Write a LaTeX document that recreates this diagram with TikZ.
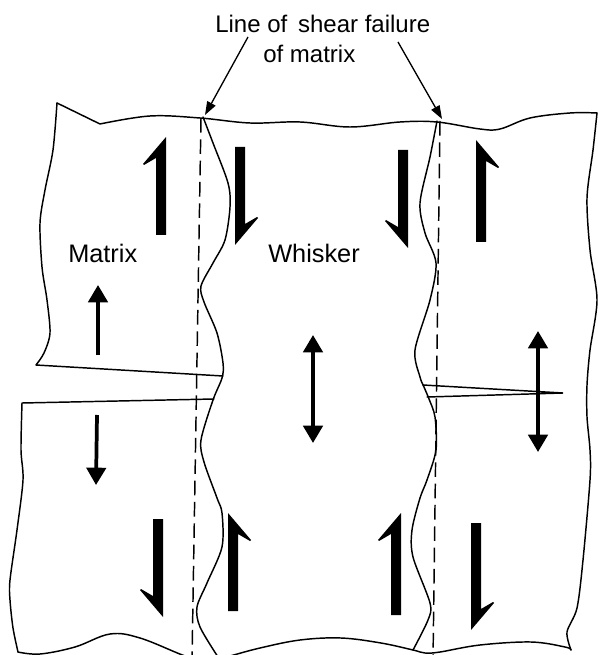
\documentclass[tikz,border=0pt]{standalone}
\usepackage{fontspec}
\setmainfont{Liberation Sans}
\usetikzlibrary{arrows.meta}
\tikzset{
  outline/.style={line width=1.1pt, line join=round, line cap=round},
  slipline/.style={line width=1.1pt, dash pattern=on 11pt off 5pt},
  stresstip/.tip={Triangle[length=13pt,width=14.5pt]},
  stressarrow/.style={line width=2.8pt, -stresstip},
  stressdouble/.style={line width=2.8pt, stresstip-stresstip},
  leader/.style={line width=1pt, -{Triangle[length=10pt,width=7pt]}},
  toplabel/.style={font=\fontsize{18}{22}\selectfont, inner sep=0pt, anchor=base west},
  regionlabel/.style={font=\fontsize{19}{23}\selectfont, inner sep=0pt, anchor=base west},
}
% shear harpoon: #1,#2 = pointed end of the bar, #3 = length,
% #4 = x-flip (1: barb left, -1: barb right), #5 = y-flip (1: up, -1: down)
\newcommand{\shearbar}[5]{%
  \fill[shift={(#1,#2)}, xscale=#4, yscale=#5]
    (5,0) -- (5,#3) -- (-5,#3) -- (-5,21) -- (-17,28) -- (-18,27) -- cycle;}
\begin{document}
\begin{tikzpicture}[x=0.75pt,y=-0.75pt]
\useasboundingbox (0,0) rectangle (598,655);
\clip (0,0) rectangle (598,655);

% top surface
\draw[outline] (57,103) -- plot[smooth, tension=0.6] coordinates {(100,124) (150,116) (200,118) (250,123) (300,122) (350,127) (400,122) (437,122) (480,129) (500,129) (530,118) (570,113) (597,113)};
% right edge of the matrix
\draw[outline] plot[smooth] coordinates {(597,113) (593,150) (587,198) (590,250) (597,300) (590,350) (587,385) (587,417) (590,450) (590,480) (583,560) (577,608) (567,632) (571,650)};
% bottom surface
\draw[outline] plot[smooth, tension=0.6] coordinates {(571,650) (565,647) (531,642) (480,645) (440,652) (425,653) (413,650) (381,643) (341,638) (300,640) (260,648) (230,656) (207,662) (185,656) (140,638) (110,634) (75,647) (40,654) (18,652)};
% left matrix, upper piece
\draw[outline] plot[smooth] coordinates {(57,103) (53,150) (45,190) (40,223) (42,267) (47,300) (50,333) (44,353) (36,365)} -- (223,376);
% left matrix, lower piece
\draw[outline] (214,399) -- plot[smooth] coordinates {(22,403) (21,450) (23,480) (17,530) (10,580) (10,600) (13,628) (18,652)};

% whisker surfaces
\draw[outline] plot[smooth] coordinates {(203,117) (213,143) (228,183) (230,207) (225,240) (213,263) (201,286) (204,302) (217,333) (223,363) (222,378) (213,400) (201,440) (204,462) (217,498) (222,513) (222,547) (207,583) (197,607) (200,627) (218,657)};
\draw[outline] plot[smooth] coordinates {(437,121) (430,157) (420,203) (425,233) (436,263) (430,300) (415,350) (420,377) (424,387) (429,399) (435,417) (436,450) (427,480) (420,498) (412,530) (413,557) (430,603) (428,620) (413,650)};

% crack running into the right matrix
\draw[outline, line join=miter] (423,385) -- (563,393) -- (427,397);

% lines of shear failure
\coordinate (s1top) at (201,118);
\coordinate (s1bot) at (192,660);
\coordinate (s2top) at (440,121);
\coordinate (s2bot) at (433,660);
\draw[slipline] (s1top) -- (s1bot);
\draw[slipline] (s2top) -- (s2bot);

% labels
\node[toplabel] (lbl1) at (215,33) {Line of\hspace{0.45em}shear failure};
\node[toplabel] (lbl2) at (263,63) {of matrix};
\node[regionlabel] (matrix) at (68,263) {Matrix};
\node[regionlabel] (whisker) at (268,263) {Whisker};

% leaders
\coordinate (lead1) at (248,37);
\coordinate (tip1) at (205,115);
\coordinate (lead2) at (398,42);
\coordinate (tip2) at (442,119);
\draw[leader] (lead1) -- (tip1);
\draw[leader] (lead2) -- (tip2);

% normal stress arrows
\coordinate (mu0) at (98,355);
\coordinate (mu1) at (98,285);
\coordinate (md0) at (97,415);
\coordinate (md1) at (96,485);
\coordinate (wa) at (313,335);
\coordinate (wb) at (313,443);
\coordinate (ra) at (538,331);
\coordinate (rb) at (538,452);
\draw[stressarrow] (mu0) -- (mu1);
\draw[stressarrow] (md0) -- (md1);
\draw[stressdouble] (wa) -- (wb);
\draw[stressdouble] (ra) -- (rb);

% shear arrows
\shearbar{161}{137}{98}{1}{1}
\shearbar{240}{245}{98}{-1}{-1}
\shearbar{403}{248}{98}{1}{-1}
\shearbar{481}{140}{102}{-1}{1}
\shearbar{158}{617}{98}{1}{-1}
\shearbar{233}{513}{98}{-1}{1}
\shearbar{396}{513}{102}{1}{1}
\shearbar{476}{630}{107}{-1}{-1}
\end{tikzpicture}
\end{document}
